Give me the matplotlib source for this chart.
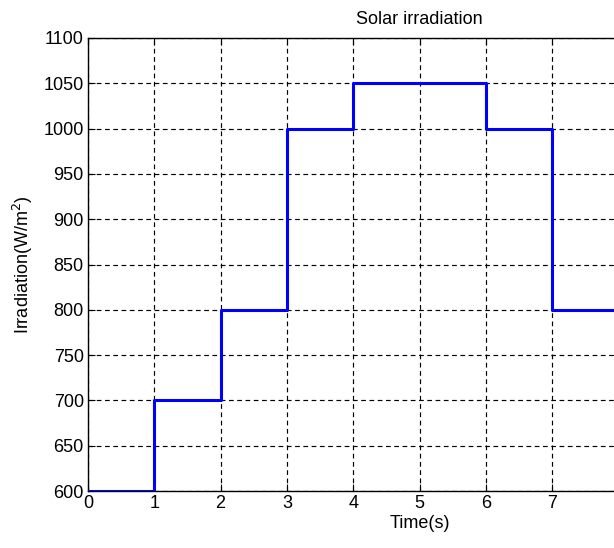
import matplotlib.pyplot as plt
import numpy as np

plt.rcParams['font.family'] = ['Liberation Sans', 'DejaVu Sans']

# step profile of the irradiation (change times and levels)
time_s = [0, 1, 2, 3, 4, 6, 7, 10]
irradiation = [600, 700, 800, 1000, 1050, 1000, 800, 800]

x_ticks = np.arange(0, 11, 1)
# labels past 7 fall outside the cropped picture
x_labels = [str(v) if v <= 7 else '' for v in x_ticks]
y_ticks = np.arange(600, 1101, 50)

fig = plt.figure(figsize=(6.14, 5.48), dpi=100)
# axes run past the right edge, the reference is cropped there
ax = fig.add_axes([88/614, 57/548, 663/614, 453/548])

ax.step(time_s, irradiation, where='post', color='#0000ff', linewidth=2.2, zorder=3)

ax.set_xlim(0, 10)
ax.set_ylim(600, 1100)
ax.set_xticks(x_ticks)
ax.set_xticklabels(x_labels)
ax.set_yticks(y_ticks)
ax.grid(True, color='black', linestyle=(0, (4, 3)), linewidth=0.85, zorder=1)
ax.tick_params(direction='in', length=5, width=0.8, top=True, right=True,
               labelsize=13, pad=3, colors='black')
for spine in ax.spines.values():
    spine.set_linewidth(1)

ax.set_title('Solar irradiation', fontsize=13, pad=10)
ax.set_xlabel('Time(s)', fontsize=13, labelpad=2)
ax.set_ylabel('Irradiation(W/m$^2$)', fontsize=13, labelpad=6)

fig.savefig('out.png', dpi=100)
